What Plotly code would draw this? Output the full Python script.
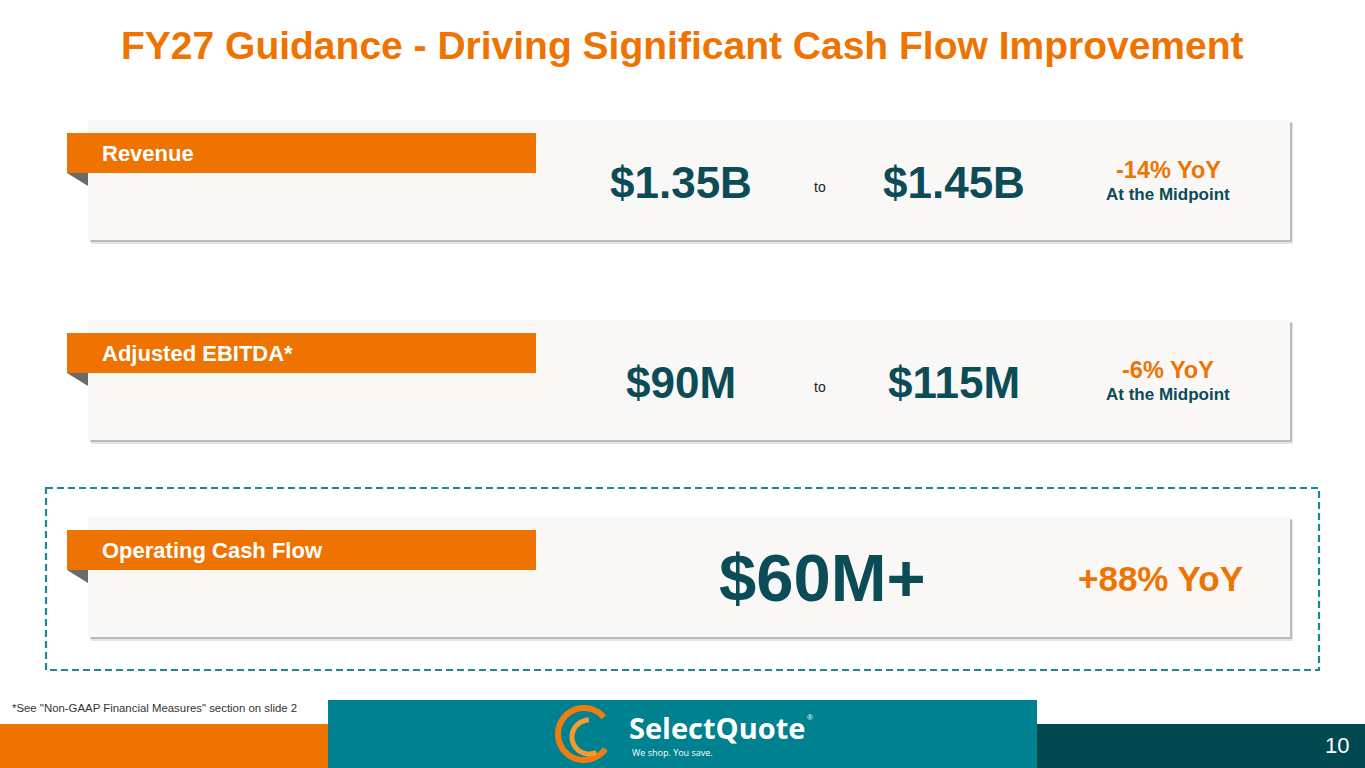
import numpy as np
import plotly.graph_objects as go

# slide content
metrics = ["Revenue", "Adjusted EBITDA*", "Operating Cash Flow"]
low_values = ["$1.35B", "$90M", "$60M+"]
high_values = ["$1.45B", "$115M", None]
yoy_change = ["-14% YoY", "-6% YoY", "+88% YoY"]
yoy_note = ["At the Midpoint", "At the Midpoint", None]

TITLE = "FY27 Guidance - Driving Significant Cash Flow Improvement"
FOOTNOTE = "*See \"Non-GAAP Financial Measures\" section on slide 2"
PAGE = "10"

ORANGE = "#EF7300"
DARK_TEAL = "#0B4C56"
TEAL = "#00818F"
DEEP_TEAL = "#024850"
CARD = "#F9F8F7"
FONT = "Liberation Sans, Arial, sans-serif"

W, H = 1365, 768
card_tops = [120, 320, 517]


def rect(x0, y0, x1, y1, color, line=None):
    return dict(type="rect", xref="x", yref="y", x0=x0, y0=y0, x1=x1, y1=y1,
                fillcolor=color, line=line or dict(width=0), layer="below")


def arc_path(cx, cy, r, a0, a1, n=60):
    ang = np.radians(np.linspace(a0, a1, n))
    pts = [f"{cx + r * np.cos(a):.1f},{cy - r * np.sin(a):.1f}" for a in ang]
    return "M" + " L".join(pts)


fig = go.Figure()
# invisible trace so the axes exist
fig.add_trace(go.Scatter(x=[0, W], y=[0, H], mode="markers",
                         marker=dict(opacity=0), hoverinfo="skip", showlegend=False))

shapes = []
annotations = []

# dashed highlight box around the cash-flow card
shapes.append(dict(type="rect", xref="x", yref="y", x0=46, y0=488, x1=1319, y1=670,
                   line=dict(color="#1B8896", width=2.2, dash="7px,4px"), layer="below"))

for i, name in enumerate(metrics):
    top = card_tops[i]
    # shadow + card
    shapes.append(rect(91, top + 3, 1293, top + 124, "rgba(0,0,0,0.10)"))
    shapes.append(rect(90, top + 2, 1292, top + 122, "rgba(0,0,0,0.18)"))
    shapes.append(rect(88, top, 1290, top + 120, CARD))
    # orange tab with folded corner
    shapes.append(rect(67, top + 13, 536, top + 53, ORANGE))
    shapes.append(dict(type="path", xref="x", yref="y", layer="below",
                       path=f"M67,{top + 53} L88,{top + 53} L88,{top + 66} Z",
                       fillcolor="#6B6B6B", line=dict(width=0)))
    annotations.append(dict(x=100, y=top + 33, text=f"<b>{name}</b>", xanchor="left",
                            font=dict(family=FONT, size=22, color="white")))

    if high_values[i] is not None:
        annotations.append(dict(x=681, y=top + 62, text=f"<b>{low_values[i]}</b>",
                                font=dict(family=FONT, size=44, color=DARK_TEAL)))
        annotations.append(dict(x=820, y=top + 67, text="to",
                                font=dict(family=FONT, size=14, color="#222222")))
        annotations.append(dict(x=954, y=top + 62, text=f"<b>{high_values[i]}</b>",
                                font=dict(family=FONT, size=44, color=DARK_TEAL)))
        annotations.append(dict(x=1168, y=top + 50, text=f"<b>{yoy_change[i]}</b>",
                                font=dict(family=FONT, size=23.5, color=ORANGE)))
        annotations.append(dict(x=1168, y=top + 74, text=f"<b>{yoy_note[i]}</b>",
                                font=dict(family=FONT, size=17, color=DARK_TEAL)))
    else:
        annotations.append(dict(x=822, y=top + 60, text=f"<b>{low_values[i]}</b>",
                                font=dict(family=FONT, size=67, color=DARK_TEAL)))
        annotations.append(dict(x=1160, y=top + 61, text=f"<b>{yoy_change[i]}</b>",
                                font=dict(family=FONT, size=35, color=ORANGE)))

# title
annotations.append(dict(x=682, y=45, text=f"<b>{TITLE}</b>",
                        font=dict(family=FONT, size=39, color=ORANGE)))

# footer bands
shapes.append(rect(0, 724, 328, H, ORANGE))
shapes.append(rect(328, 700, 1037, H, TEAL))
shapes.append(rect(1037, 724, W, H, DEEP_TEAL))

# logo swirl
shapes.append(dict(type="path", xref="x", yref="y", path=arc_path(584, 734, 26, 40, 325),
                   line=dict(color="#F07C12", width=6)))
shapes.append(dict(type="path", xref="x", yref="y", path=arc_path(589, 737, 17, 90, 295),
                   line=dict(color="#F59C2E", width=5)))
annotations.append(dict(x=627, y=727, text="<b>SelectQuote</b>", xanchor="left",
                        font=dict(family="Open Sans, sans-serif", size=29, color="white")))
annotations.append(dict(x=805, y=717, text="®", xanchor="left",
                        font=dict(family=FONT, size=8, color="white")))
annotations.append(dict(x=630, y=752, text="We shop. You save.", xanchor="left",
                        font=dict(family="Open Sans, sans-serif", size=9, color="white")))

annotations.append(dict(x=10, y=708, text=FOOTNOTE, xanchor="left",
                        font=dict(family=FONT, size=11.4, color="#333333")))
annotations.append(dict(x=1337, y=745, text=PAGE,
                        font=dict(family=FONT, size=22, color="white")))

for a in annotations:
    a.update(xref="x", yref="y", showarrow=False, yanchor="middle")
    a.setdefault("xanchor", "center")

fig.update_layout(
    width=W, height=H,
    margin=dict(l=0, r=0, t=0, b=0),
    paper_bgcolor="white", plot_bgcolor="white",
    xaxis=dict(range=[0, W], visible=False, fixedrange=True),
    yaxis=dict(range=[H, 0], visible=False, fixedrange=True),
    shapes=shapes, annotations=annotations,
    showlegend=False,
)

fig.write_html("out.html", config={"displayModeBar": False},
               post_script="document.body.style.margin='0';")
